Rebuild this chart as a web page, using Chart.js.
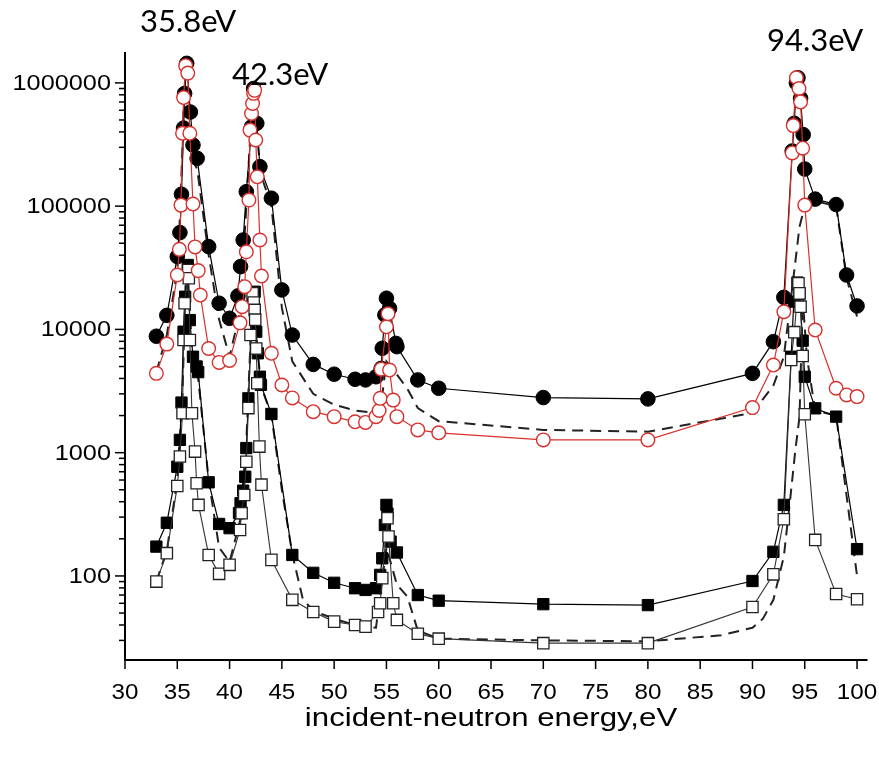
<!DOCTYPE html>
<html>
<head>
<meta charset="utf-8">
<script src="https://cdn.jsdelivr.net/npm/chart.js@4.4.1/dist/chart.umd.min.js"></script>
<style>
  html, body { margin: 0; padding: 0; background: #fff; }
</style>
</head>
<body>
<canvas id="chart" width="879" height="758"></canvas>
<script>
// measured series (energy in eV, yield on log scale)
const filledCircleE = [33, 34, 35, 35.25, 35.4, 35.6, 35.7, 35.9, 36.25, 36.5, 36.9, 38, 39, 40, 40.8, 41.05, 41.3, 41.6, 42.1, 42.3, 42.6, 42.9, 44, 45, 46, 48, 50, 52, 53, 54, 54.5, 54.6, 54.85, 55, 55.3, 55.9, 56, 58, 60, 70, 80, 90, 92, 93, 93.8, 94, 94.2, 94.35, 94.6, 94.85, 95, 96, 98, 99, 100];
const filledCircleY = [8800, 13000, 39000, 61000, 125000, 430000, 820000, 1440000, 580000, 313000, 244000, 46900, 16300, 12300, 18700, 32300, 53100, 131000, 440000, 900000, 470000, 209000, 116000, 20900, 9000, 5200, 4330, 3940, 3890, 4130, 4830, 7030, 13100, 17900, 14800, 7700, 7240, 3890, 3330, 2800, 2730, 4400, 7950, 18200, 280000, 470000, 1000000, 1100000, 750000, 380000, 200000, 114000, 103000, 27600, 15500];

const openCircleE = [33, 34, 35, 35.2, 35.35, 35.5, 35.6, 35.8, 36.0, 36.2, 36.5, 36.7, 37, 37.2, 38, 39, 40, 41, 41.2, 41.45, 41.6, 41.85, 41.95, 42.1, 42.2, 42.3, 42.4, 42.5, 42.65, 42.9, 43.05, 44, 45, 46, 48, 50, 52, 53, 54, 54.3, 54.4, 54.5, 55, 55.15, 55.3, 55.65, 56, 58, 60, 70, 80, 90, 92, 93, 93.8, 93.9, 94.2, 94.45, 94.6, 94.8, 95, 96, 98, 99, 100];
const openCircleY = [4400, 7600, 27600, 44600, 102000, 390000, 760000, 1380000, 1200000, 390000, 104000, 46700, 30000, 19000, 7000, 5400, 5600, 11300, 15300, 22200, 42600, 112000, 414000, 565000, 680000, 822000, 870000, 344000, 173000, 53100, 27100, 6400, 3540, 2780, 2150, 1960, 1780, 1760, 1960, 2200, 2760, 4760, 10500, 13400, 4680, 2670, 1960, 1530, 1450, 1270, 1270, 2320, 5140, 13900, 270000, 450000, 1100000, 900000, 700000, 295000, 102000, 9890, 3330, 2940, 2850];

const upperDashE = [33, 34, 35, 35.3, 35.6, 35.8, 36, 36.3, 36.9, 38, 39, 40, 41, 41.6, 42, 42.3, 42.6, 43, 44, 45, 46, 48, 50, 52, 54, 54.5, 55, 56, 57, 58, 60, 70, 80, 90, 92, 93, 94, 94.5, 95, 96, 98, 99, 100];
const upperDashY = [4500, 9000, 30000, 100000, 600000, 1300000, 700000, 250000, 200000, 40000, 12000, 6000, 14000, 100000, 400000, 850000, 400000, 180000, 100000, 15000, 5500, 3000, 2450, 2200, 2090, 2500, 5500, 4300, 3300, 2300, 1800, 1530, 1480, 2100, 3500, 6000, 30000, 68000, 100000, 110000, 100000, 26000, 12700];

const filledSquareE = [33, 34, 35, 35.25, 35.4, 35.6, 35.75, 36, 36.2, 36.5, 36.85, 37, 38, 39, 40, 40.9, 41.05, 41.3, 41.5, 41.6, 41.8, 42.2, 42.4, 42.55, 42.7, 42.9, 43, 44, 46, 48, 50, 52, 53, 54, 54.4, 54.6, 54.85, 55, 55.1, 55.4, 56, 58, 60, 70, 80, 90, 92, 93, 93.7, 93.95, 94.3, 94.5, 94.8, 95, 96, 98, 100];
const filledSquareY = [173, 270, 769, 1270, 2550, 9580, 18400, 33300, 11900, 6000, 5000, 4500, 575, 264, 244, 323, 389, 492, 638, 1090, 2760, 16000, 20200, 9580, 6400, 4130, 3550, 2060, 148, 106, 88, 79.5, 77, 79.5, 102, 139, 259, 377, 320, 190, 155, 70, 63, 59, 58, 91, 157, 377, 6000, 16800, 24000, 19600, 8100, 4130, 2290, 1960, 165];

const openSquareE = [33, 34, 35, 35.25, 35.5, 35.6, 35.7, 36.05, 36.1, 36.2, 36.4, 36.7, 36.85, 37.03, 38, 39, 40, 41, 41.15, 41.4, 41.6, 41.8, 42.0, 42.2, 42.3, 42.4, 42.45, 42.55, 42.65, 42.85, 43.05, 44, 46, 48, 50, 52, 53, 54.2, 54.4, 54.6, 55.1, 55.2, 55.65, 56, 58, 60, 70, 80, 90, 92, 93, 93.7, 94.0, 94.4, 94.5, 94.6, 94.8, 95, 96, 98, 100];
const openSquareY = [90, 153, 537, 930, 2090, 8200, 16300, 30300, 26000, 8200, 2090, 1020, 565, 377, 148, 104, 123, 236, 323, 454, 845, 2300, 9000, 19600, 16500, 14400, 12000, 7000, 3660, 1120, 550, 135, 64, 51, 42.6, 40, 38.8, 51, 60, 96, 294, 209, 60, 44, 34, 31, 28.5, 28.5, 56, 103, 288, 5650, 9500, 23700, 19600, 15300, 6080, 2050, 196, 71.4, 64.7];

const lowerDashE = [33, 34, 35, 35.5, 35.8, 36.1, 36.5, 37, 38, 39, 40, 41, 41.6, 42.0, 42.3, 42.6, 43, 44, 45, 46, 47, 48, 50, 52, 54, 55, 56, 57, 58, 60, 70, 80, 87, 90, 91, 92, 93, 93.6, 94.1, 94.5, 94.8, 95.2, 96, 98, 100];
const lowerDashY = [90, 160, 600, 3000, 25000, 20000, 5000, 4000, 600, 170, 130, 280, 1200, 8000, 18000, 8000, 3500, 2000, 500, 150, 65, 52, 45, 40, 38, 170, 85, 68, 36, 31, 30, 29.5, 33, 38, 45, 64, 144, 413, 1050, 1950, 18000, 6000, 2200, 2000, 100];

const xTicks = [30, 35, 40, 45, 50, 55, 60, 65, 70, 75, 80, 85, 90, 95, 100];
const yTicks = [100, 1000, 10000, 100000, 1000000];
const peakLabels = ['35.8eV', '42.3eV', '94.3eV'];
const xTitle = 'incident-neutron energy,eV';

const RED = '#d8302c';
const pts = (xs, ys) => xs.map((x, i) => ({ x, y: ys[i] }));

// text is slightly wider than tall in the original figure
function wideText(ctx, text, x, y, align, sx) {
  ctx.save();
  ctx.translate(x, y);
  ctx.scale(sx, 1);
  ctx.textAlign = align;
  ctx.fillText(text, 0, 0);
  ctx.restore();
}

const axesPlugin = {
  id: 'axes',
  afterDraw(chart) {
    const { ctx, chartArea: a, scales: { x, y } } = chart;
    ctx.save();
    ctx.strokeStyle = '#000';
    ctx.fillStyle = '#000';
    ctx.lineWidth = 2;
    ctx.beginPath();
    ctx.moveTo(a.left, a.top);
    ctx.lineTo(a.left, a.bottom);
    ctx.lineTo(a.right, a.bottom);
    ctx.stroke();

    // y ticks: decades long, 2..9 short
    ctx.lineWidth = 1.5;
    for (let d = 10; d <= 1e6; d *= 10) {
      for (let m = 1; m < 10; m++) {
        const v = d * m;
        if (v < y.min || v > y.max) continue;
        const py = y.getPixelForValue(v);
        const len = m === 1 ? 10 : 6;
        ctx.beginPath();
        ctx.moveTo(a.left - len, py);
        ctx.lineTo(a.left, py);
        ctx.stroke();
      }
    }
    // x ticks
    xTicks.forEach(v => {
      const px = x.getPixelForValue(v);
      ctx.beginPath();
      ctx.moveTo(px, a.bottom);
      ctx.lineTo(px, a.bottom + 9);
      ctx.stroke();
    });

    ctx.font = '22px "Liberation Sans", Arial, sans-serif';
    ctx.textBaseline = 'middle';
    yTicks.forEach(v => {
      wideText(ctx, String(v), a.left - 14, y.getPixelForValue(v) + 1, 'right', 1.15);
    });
    ctx.textBaseline = 'alphabetic';
    xTicks.forEach(v => {
      wideText(ctx, String(v), x.getPixelForValue(v), a.bottom + 39, 'center', 1.1);
    });

    ctx.font = '26px "Liberation Sans", Arial, sans-serif';
    wideText(ctx, xTitle, (x.getPixelForValue(30) + x.getPixelForValue(100)) / 2, a.bottom + 66, 'center', 1.2);

    // peak annotations
    ctx.font = '31px Lato, "Open Sans", sans-serif';
    const spots = [[140, 32], [232, 85], [767, 51]];
    peakLabels.forEach((t, i) => {
      wideText(ctx, t, spots[i][0], spots[i][1], 'left', 1);
    });
    ctx.restore();
  }
};

new Chart(document.getElementById('chart'), {
  type: 'line',
  data: {
    datasets: [
      {
        label: 'open circles', data: pts(openCircleE, openCircleY), order: 0,
        borderColor: RED, borderWidth: 1.2,
        pointStyle: 'circle', pointRadius: 6.8, pointBorderWidth: 1.4,
        pointBackgroundColor: '#fff', pointBorderColor: RED
      },
      {
        label: 'filled circles', data: pts(filledCircleE, filledCircleY), order: 1,
        borderColor: '#000', borderWidth: 1.2,
        pointStyle: 'circle', pointRadius: 7.3, pointBorderWidth: 1,
        pointBackgroundColor: '#000', pointBorderColor: '#000'
      },
      {
        label: 'open squares', data: pts(openSquareE, openSquareY), order: 2,
        borderColor: '#333', borderWidth: 1.1,
        pointStyle: 'rect', pointRadius: 8, pointBorderWidth: 1.3,
        pointBackgroundColor: '#fff', pointBorderColor: '#222'
      },
      {
        label: 'filled squares', data: pts(filledSquareE, filledSquareY), order: 3,
        borderColor: '#000', borderWidth: 1.2,
        pointStyle: 'rect', pointRadius: 8, pointBorderWidth: 1,
        pointBackgroundColor: '#000', pointBorderColor: '#000'
      },
      {
        label: 'upper dashed', data: pts(upperDashE, upperDashY), order: 4,
        borderColor: '#222', borderWidth: 2, borderDash: [11, 7], pointRadius: 0
      },
      {
        label: 'lower dashed', data: pts(lowerDashE, lowerDashY), order: 5,
        borderColor: '#222', borderWidth: 2, borderDash: [11, 7], pointRadius: 0
      }
    ]
  },
  options: {
    responsive: false,
    animation: false,
    devicePixelRatio: 1,
    layout: { padding: { top: 52, right: 11.5, left: 0, bottom: 0 } },
    elements: { line: { tension: 0, fill: false } },
    plugins: { legend: { display: false }, tooltip: { enabled: false } },
    scales: {
      x: {
        type: 'linear', min: 30, max: 101,
        grid: { display: false }, border: { display: false }, ticks: { display: false },
        afterFit: s => { s.height = 98; }
      },
      y: {
        type: 'logarithmic', min: 20.8, max: 1.78e6,
        grid: { display: false }, border: { display: false }, ticks: { display: false },
        afterFit: s => { s.width = 125; }
      }
    }
  },
  plugins: [axesPlugin]
});
</script>
</body>
</html>
